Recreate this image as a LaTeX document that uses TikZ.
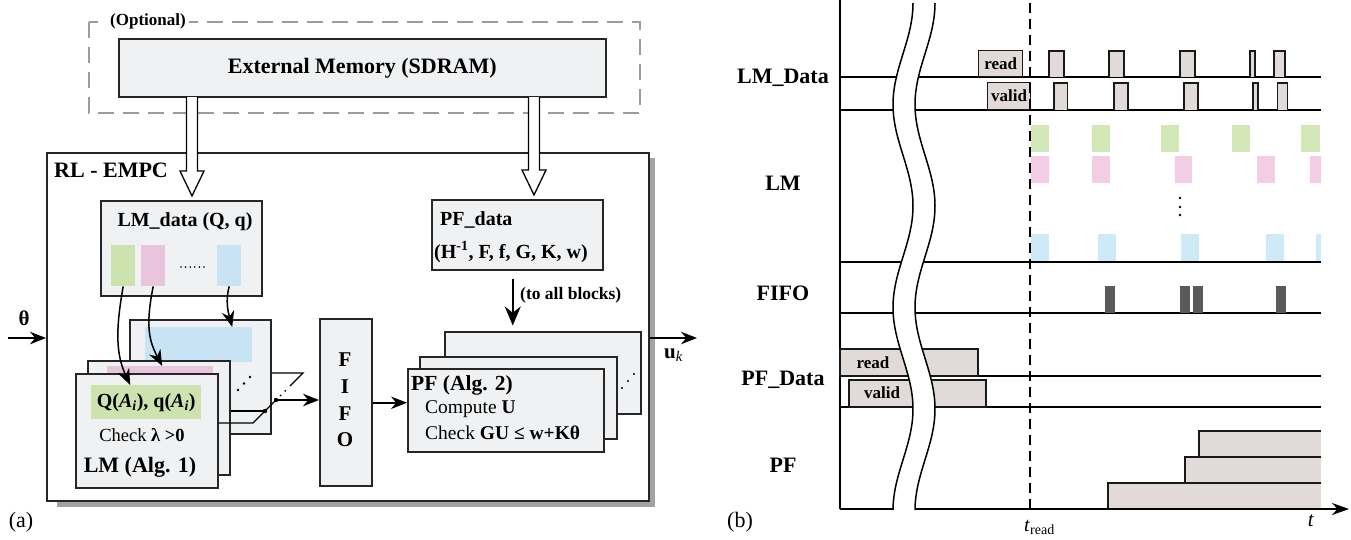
\documentclass[tikz,border=0pt]{standalone}
\usepackage{fontspec}
\setmainfont{Liberation Serif}
\usetikzlibrary{arrows.meta,calc}
\definecolor{boxfill}{HTML}{F0F1F3}
\definecolor{lgreen}{HTML}{CDE3AF}
\definecolor{lpink}{HTML}{E8C4DD}
\definecolor{lblue}{HTML}{C7E3F4}
\definecolor{tgreen}{HTML}{D2E7B6}
\definecolor{tpink}{HTML}{F2CDE3}
\definecolor{tblue}{HTML}{CEEAF7}
\definecolor{pulse}{HTML}{E1DAD8}
\definecolor{fifobar}{HTML}{5A5A5A}
\definecolor{dashgray}{HTML}{9C9C9C}
\definecolor{shadowgray}{HTML}{A3A3A3}
\newcommand{\fsz}[1]{\fontsize{#1}{#1}\selectfont}
\newcommand{\hollowarr}[3]{\draw[line width=1.3pt,fill=white] (#1-5.5,#2) -- (#1-5.5,#3-25) -- (#1-12,#3-25) -- (#1,#3) -- (#1+12,#3-25) -- (#1+5.5,#3-25) -- (#1+5.5,#2);}
\begin{document}
\begin{tikzpicture}[x=1pt,y=-1pt,
  box/.style={draw=black!85,fill=boxfill,line width=1.5pt,anchor=north west,inner sep=0pt},
  arr/.style={-{Stealth[length=16pt,width=12.5pt]},line width=1.5pt},
  bigarr/.style={-{Stealth[length=19pt,width=16pt]},line width=1.7pt},
  colrect/.style={anchor=north west,inner sep=0pt,minimum width=24pt,minimum height=41pt},
  bl/.style={inner sep=0pt,font=\bfseries\fsz{20}},
  tline/.style={line width=1.7pt},
  pulsebox/.style={draw=black!90,fill=pulse,line width=1.3pt},
  tlab/.style={font=\bfseries\fsz{22}},
]
\useasboundingbox (0,0) rectangle (1351,539);

% ---------------- (a) ----------------
\draw[dashgray,line width=2.8pt,dash pattern=on 16pt off 9pt] (89,22) rectangle (640,113);
\node[fill=white,inner sep=3pt,font=\bfseries\fsz{17}] (opt) at (148,21) {(Optional)};
\node[box,minimum width=487pt,minimum height=58pt,font=\bfseries\fsz{22}] (ext) at (118,38) {External Memory (SDRAM)};

% RL-EMPC box with shadow
\fill[shadowgray] (57,158) rectangle (655,507);
\node[draw=black!85,fill=white,line width=1.5pt,anchor=north west,inner sep=0pt,minimum width=602pt,minimum height=348pt] (rl) at (46,152) {};
\node[anchor=west,inner sep=0pt,font=\bfseries\fsz{22}] (rllbl) at (54,170) {RL - EMPC};

% hollow arrows
\hollowarr{192}{97}{196}
\hollowarr{534}{97}{195}

% LM_data box
\node[box,minimum width=161pt,minimum height=95pt] (lmd) at (100,200) {};
\node[bl] (lmdl) at (185,222) {LM\_data (Q, q)};
\node[colrect,fill=lgreen] (sg) at (111,245) {};
\node[colrect,fill=lpink] (sp) at (141,245) {};
\node[colrect,fill=lblue] (sb) at (217,245) {};
\foreach \i in {0,...,5} \fill (181+4.6*\i,267) circle (0.9pt);

% LM stack
\node[box,minimum width=141pt,minimum height=114pt] (lm3) at (129,319) {};
\node[anchor=north west,inner sep=0pt,fill=lblue,minimum width=107pt,minimum height=35pt] (lm3b) at (145,327) {};
\foreach \i in {0,1,2} \fill (238+6*\i,390-6.5*\i) circle (1.3pt);
\node[box,minimum width=142pt,minimum height=114pt] (lm2) at (87,360) {};
\node[anchor=north west,inner sep=0pt,fill=lpink,minimum width=106pt,minimum height=14pt] (lm2p) at (107,366) {};
\node[box,minimum width=142pt,minimum height=114pt] (lm1) at (75,373) {};
\node[anchor=north west,inner sep=0pt,fill=lgreen,minimum width=110pt,minimum height=34pt,font=\bfseries\fsz{20}] (qhl) at (91,385) {Q(\textit{A\textsubscript{i}}), q(\textit{A\textsubscript{i}})};
\node[inner sep=0pt,font=\fsz{18.5}] (chk) at (142,435) {Check \textbf{λ >0}};
\node[inner sep=0pt,font=\bfseries\fsz{22}] (lmal) at (140,467) {LM (Alg. 1)};

% curved arrows
\draw[arr] (sg.south) .. controls +(-8,45) and +(-14,-30) .. ([xshift=-16pt]qhl.north);
\draw[arr] (sp.south) .. controls +(-8,40) and +(-13,-25) .. ([xshift=2pt]lm2p.north);
\draw[arr] (sb.south) .. controls +(-4,15) and +(-4,-15) .. ([xshift=33.5pt]lm3b.north);

% FIFO
\node[box,minimum width=52pt,minimum height=167pt] (fifo) at (319,318) {};
\node[bl,font=\bfseries\fsz{21}] (f1) at (345,360) {F};
\node[bl,font=\bfseries\fsz{21}] (f2) at (345,387) {I};
\node[bl,font=\bfseries\fsz{21}] (f3) at (345,414) {F};
\node[bl,font=\bfseries\fsz{21}] (f4) at (345,440) {O};

% mux lines
\coordinate (m1) at (253,423);
\coordinate (m2) at (265,411);
\coordinate (m3) at (276,400);
\coordinate (m4) at (290,386);
\coordinate (m5) at (303,373);
\draw[line width=1.3pt] (lm1.east |- m1) -- (m1) -- (m3);
\draw[line width=1.3pt] (lm2.east |- m2) -- (m2);
\draw[line width=1.3pt] (lm3.east |- m5) -- (m5) -- (m4);
\foreach \t in {0.33,0.66} \fill ($(m3)!\t!(m4)$) circle (1pt);
\fill (m2) circle (2.2pt);
\fill (m3) circle (2.2pt);
\draw[arr] (m3) -- (fifo.west |- m3);

% PF_data
\node[box,minimum width=171pt,minimum height=70pt] (pfd) at (431,199) {};
\node[bl,anchor=west] (pfdl) at (440,220) {PF\_data};
\node[bl,anchor=west] (pfdp) at (434,252) {(H\textsuperscript{-1}, F, f, G, K, w)};
\draw[bigarr] ([xshift=-4.5pt,yshift=-8pt]pfd.south) -- ++(0,47);
\node[anchor=west,inner sep=0pt,font=\bfseries\fsz{17.5}] (tal) at (520,295) {(to all blocks)};

% PF stack
\node[box,minimum width=196pt,minimum height=82pt] (pf3) at (444,331) {};
\node[box,minimum width=197pt,minimum height=82pt] (pf2) at (419,356) {};
\foreach \i in {0,1,2} \fill (622+6*\i,388-7*\i) circle (1.2pt);
\node[box,minimum width=196pt,minimum height=83pt] (pf1) at (407,368) {};
\node[anchor=west,inner sep=0pt,font=\bfseries\fsz{21.5}] (pft) at (411,385) {PF (Alg. 2)};
\node[anchor=west,inner sep=0pt,font=\fsz{19.5}] (pfc) at (425,409) {Compute \textbf{U}};
\node[anchor=west,inner sep=0pt,font=\fsz{19.5}] (pfk) at (425,433) {Check \textbf{GU ≤ w+Kθ}};
\coordinate (pfin) at ([yshift=7.5pt]pf1.west);
\draw[arr] (fifo.east |- pfin) -- (pfin);

% input / output
\coordinate (thin) at (8,338);
\coordinate (uout) at (697,338);
\draw[arr] (thin) -- (rl.west |- thin);
\node[inner sep=0pt,font=\bfseries\fsz{21}] (thl) at (24,318) {θ};
\draw[arr] (rl.east |- uout) -- (uout);
\node[anchor=west,inner sep=0pt,font=\fsz{21}] (ukl) at (664,355) {\textbf{u}\textsubscript{\textit{k}}};

\node[inner sep=0pt,font=\fsz{22}] (la) at (21,522) {(a)};

% ---------------- (b) ----------------
\foreach \yy in {77,110,262,313,376,407} \draw[tline] (840,\yy) -- (1321,\yy);
\draw[tline] (840,0) -- (840,509);
\draw[tline,-{Stealth[length=17pt,width=12pt]}] (840,509) -- (1349,509);

% LM_Data
\node[pulsebox,anchor=south west,inner sep=0pt,minimum width=44pt,minimum height=26pt,font=\bfseries\fsz{17}] (lmr) at (978,77) {read};
\node[pulsebox,anchor=south west,inner sep=0pt,minimum width=43pt,minimum height=27pt,font=\bfseries\fsz{17}] (lmv) at (987,110) {valid};
\foreach \a/\b in {1049/1064,1109/1124,1180/1195,1250/1255,1274/1285}
  \draw[pulsebox] (\a,77) -- (\a,51) -- (\b,51) -- (\b,77);
\foreach \a/\b in {1054/1067.5,1114/1128,1184/1198,1253/1258,1277.5/1287.5}
  \draw[pulsebox] (\a,110) -- (\a,83) -- (\b,83) -- (\b,110);

% LM bars
\foreach \a/\b in {1031/1049,1092/1110,1161/1179,1232/1250,1301/1320}
  \fill[tgreen] (\a,125) rectangle (\b,152);
\foreach \a/\b in {1031/1049,1092/1110,1175/1192,1257/1275,1310/1321}
  \fill[tpink] (\a,156) rectangle (\b,183);
\foreach \a/\b in {1031/1049,1098/1116,1181/1199,1266/1284,1316/1321}
  \fill[tblue] (\a,234) rectangle (\b,261);
\foreach \yy in {198,207,215} \fill (1180,\yy) circle (1.3pt);

% FIFO bars
\foreach \a in {1105,1180,1193,1276}
  \fill[fifobar] (\a,286) rectangle (\a+10,313);

% PF_Data
\draw[pulsebox] (840,349) rectangle (978,376);
\draw[pulsebox] (849,380) rectangle (986,407);
\node[inner sep=0pt,font=\bfseries\fsz{17}] (pfr) at (873,363) {read};
\node[inner sep=0pt,font=\bfseries\fsz{17}] (pfv) at (882,393) {valid};

% PF bars
\foreach \x/\ya/\yb in {1108/483/509,1185/457/483,1199/431/457}
  \draw[pulsebox] (1321,\ya) -- (\x,\ya) -- (\x,\yb) -- (1321,\yb);
\draw[tline] (1108,509) -- (1321,509);

% dashed t_read
\draw[line width=1.5pt,dash pattern=on 10pt off 6pt] (1030,3) -- (1030,509);

% break
\fill[white] plot[smooth,domain=3:510,samples=80] ({903+10*cos(1.7734*(\x-3))},\x)
  -- plot[smooth,domain=510:3,samples=80] ({925+10*cos(1.7734*(\x-3))},\x) -- cycle;
\draw[line width=1.5pt] plot[smooth,domain=3:510,samples=80] ({903+10*cos(1.7734*(\x-3))},\x);
\draw[line width=1.5pt] plot[smooth,domain=3:510,samples=80] ({925+10*cos(1.7734*(\x-3))},\x);

% labels
\node[tlab,anchor=east,inner sep=0pt] (l1) at (829,78) {LM\_Data};
\node[tlab,inner sep=0pt] (l2) at (783,183) {LM};
\node[tlab,inner sep=0pt] (l3) at (783,293) {FIFO};
\node[tlab,inner sep=0pt] (l4) at (783,380) {PF\_Data};
\node[tlab,inner sep=0pt] (l5) at (783,465) {PF};
\node[anchor=west,inner sep=0pt,font=\fsz{20}] (tr) at (1024,527) {\textit{t}\textsubscript{read}};
\node[inner sep=0pt,font=\fsz{21}] (tt) at (1311,521) {\textit{t}};
\node[inner sep=0pt,font=\fsz{22}] (lb) at (740,522) {(b)};
\end{tikzpicture}
\end{document}
